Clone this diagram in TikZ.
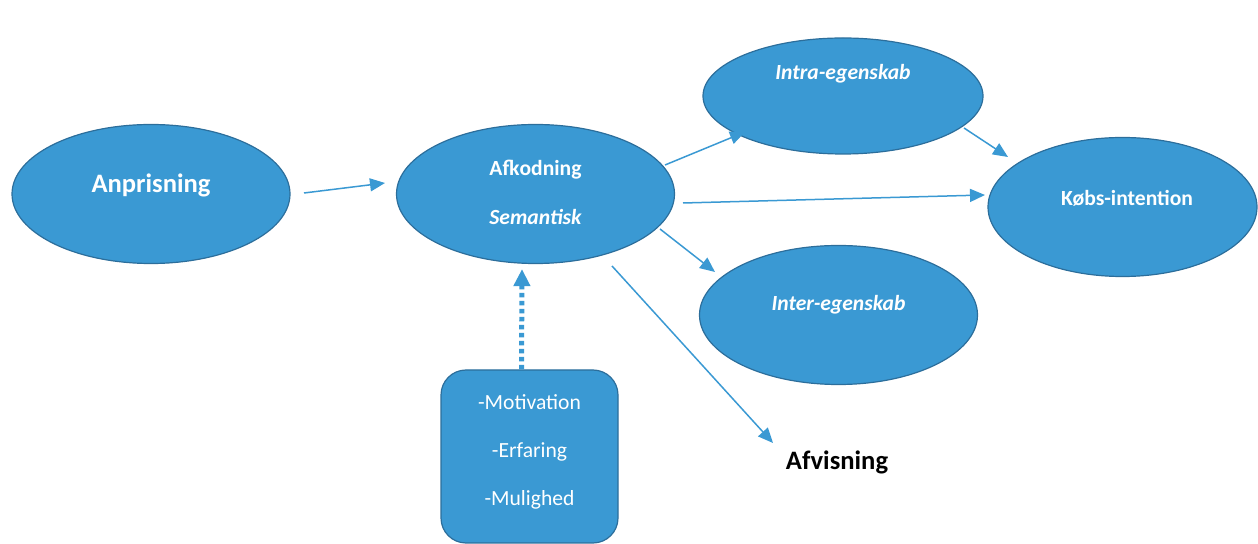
\documentclass[tikz,border=0pt]{standalone}
\usepackage{fontspec}
\setmainfont{Carlito}
\usepackage{tikz}
\usetikzlibrary{shapes.geometric,arrows.meta,calc}
\definecolor{blobfill}{RGB}{58,153,211}
\definecolor{blobline}{RGB}{44,110,155}

\begin{document}
\begin{tikzpicture}[x=0.5pt,y=-0.5pt,
  blob/.style={ellipse,draw=blobline,fill=blobfill,line width=0.6pt,inner sep=0pt,
               minimum width=139pt,minimum height=69.5pt},
  txt/.style={text=white,inner sep=0pt,font=\bfseries\fontsize{10.8}{13}\selectfont},
  link/.style={blobfill,line width=0.75pt,-{Triangle[length=7.5pt,width=6.5pt]}}]
  \useasboundingbox (0,0) rectangle (1258,544);
  % the ellipses
  \node[blob] (anpr) at (151,194) {};
  \node[blob] (afk) at (535.5,194) {};
  \node[blob,minimum height=58pt,minimum width=140pt] (intra) at (843,96) {};
  \node[blob] (inter) at (838.5,315) {};
  \node[blob,minimum width=134.5pt] (kob) at (1122.5,207) {};
  \node[draw=blobline,fill=blobfill,line width=0.6pt,rounded corners=12.5pt,
        minimum width=88.5pt,minimum height=86.5pt] (mot) at (529.5,456.5) {};
  % their texts
  \node[txt,font=\bfseries\fontsize{13.3}{16}\selectfont] (anprtxt) at (151,185) {Anprisning};
  \node[txt] (afktxt) at (535.5,170) {Afkodning};
  \node[txt,font=\bfseries\itshape\fontsize{10.8}{13}\selectfont] (semtxt) at (535.5,217) {Semantisk};
  \node[txt,font=\bfseries\itshape\fontsize{10.8}{13}\selectfont] (intratxt) at (843,74) {Intra-egenskab};
  \node[txt,font=\bfseries\itshape\fontsize{10.8}{13}\selectfont] (intertxt) at (838.5,305) {Inter-egenskab};
  \node[txt] (kobtxt) at (1127,198) {Købs-intention};
  \node[txt,font=\fontsize{10.8}{24}\selectfont,align=center] (mottxt) at (529.5,452)
       {-Motivation\\-Erfaring\\-Mulighed};
  \node[font=\bfseries\fontsize{13.3}{16}\selectfont,inner sep=0pt] (afv) at (837,462) {Afvisning};
  % arrows
  \draw[link] ($(anpr)+(153,-1)$) -- ($(afk)+(-150.5,-11)$);
  \draw[link] ($(afk)+(129.5,-29)$) -- ($(intra)+(-98,36)$);
  \draw[link] ($(afk)+(147.5,9)$) -- ($(kob)+(-137.5,-12)$);
  \draw[link] ($(afk)+(124.5,35)$) -- ($(inter)+(-123.5,-43)$);
  \draw[link] ($(afk)+(76.5,72)$) -- ($(afv)+(-64,-19)$);
  \draw[link] ($(intra)+(121,32)$) -- ($(kob)+(-114.5,-50)$);
  \draw[blobfill,line width=2.5pt,dash pattern=on 2.3pt off 1.7pt,
        -{Triangle[length=8.5pt,width=8pt]}] ($(mot.north)+(-8,0)$) -- ($(afk.south)+(-13.5,5)$);
\end{tikzpicture}
\end{document}
